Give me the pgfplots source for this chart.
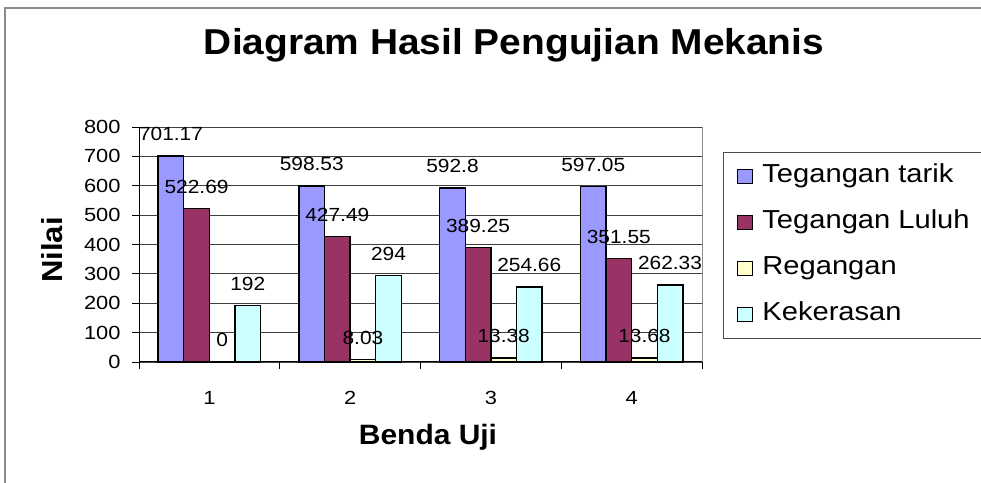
\documentclass[border=0pt]{standalone}
\usepackage{pgfplots}
\pgfplotsset{compat=1.18}
\usepackage{fontspec}
\setmainfont{Liberation Sans}
\newfontfamily\ftitle[FakeStretch=1.08]{Liberation Sans}
\newfontfamily\flab[FakeStretch=1.07]{Liberation Sans}
\newfontfamily\ftick[FakeStretch=1.15]{Liberation Sans}
\newfontfamily\fdata[FakeStretch=1.1]{Liberation Sans}
\newfontfamily\fleg[FakeStretch=1.12]{Liberation Sans}
\definecolor{ctarik}{HTML}{9999FF}
\definecolor{cluluh}{HTML}{993366}
\definecolor{cregang}{HTML}{FFFFCC}
\definecolor{ckeras}{HTML}{CCFFFF}
\pgfplotstableread{
x tarik luluh regang keras
1 701.17 522.69 0 192
2 598.53 427.49 8.03 294
3 592.8 389.25 13.38 254.66
4 597.05 351.55 13.68 262.33
}\datatab
\begin{document}
\begin{tikzpicture}[x=1bp,y=1bp]
\useasboundingbox (0,0) rectangle (981,483);
\draw[black!45, line width=1.6bp] (5,0) -- (5,475) -- (981,475);
\begin{axis}[
  at={(139bp,121bp)}, anchor=south west,
  scale only axis, width=563bp, height=235bp,
  xmin=0.5, xmax=4.5, ymin=0, ymax=800,
  axis x line*=bottom, axis y line*=left,
  axis line style={black, line width=1bp, -},
  ytick={0,100,...,800}, xtick={1,2,3,4},
  ymajorgrids, grid style={black!75, line width=0.8bp},
  tick align=outside,
  major tick length=7bp,
  major tick style={black, line width=0.9bp},
  major x tick style={draw=none},
  extra x ticks={0.5,1.5,2.5,3.5,4.5},
  extra x tick labels={},
  extra x tick style={major x tick style={draw=black, line width=0.9bp}, major tick length=7bp, grid=none},
  /pgf/number format/assume math mode=true,
  ticklabel style={font=\ftick\fontsize{19bp}{19bp}\selectfont},
  yticklabel style={xshift=-8bp},
  xticklabel style={yshift=-19bp},
  bar width=25.6bp,
  legend style={at={(axis description cs:1.0373,0.8936)}, anchor=north west,
    draw=black!70, line width=0.8bp, inner xsep=14bp, inner ysep=12.5bp,
    font=\fleg\fontsize{26bp}{26bp}\selectfont, row sep=23bp, column sep=9bp,
    nodes={inner sep=0pt, text height=18bp, text depth=5bp}},
  legend cell align=left,
  legend image code/.code={\draw[#1, line width=1bp] (0bp,-7bp) rectangle (15bp,7bp);},
  clip=false,
  every node near coord/.append style={font=\fdata\fontsize{19bp}{19bp}\selectfont, inner sep=0pt, anchor=south, yshift=15bp, text=black},
]
\addplot[ybar, bar shift=-38.4bp, fill=ctarik, draw=black, line width=1.4bp] table[x=x,y=tarik] {\datatab};
\addplot[ybar, bar shift=-12.8bp, fill=cluluh, draw=black, line width=1.4bp] table[x=x,y=luluh] {\datatab};
\addplot[ybar, bar shift=12.8bp, fill=cregang, draw=black, line width=1.4bp] table[x=x,y=regang] {\datatab};
\addplot[ybar, bar shift=38.4bp, fill=ckeras, draw=black, line width=1.4bp] table[x=x,y=keras] {\datatab};
\legend{Tegangan tarik, Tegangan Luluh\kern20bp, Regangan, Kekerasan}
\addplot[ybar, bar shift=-38.4bp, draw=none, fill=none, nodes near coords, forget plot,
  every node near coord/.append style={xshift=-38.4bp}] table[x=x,y=tarik] {\datatab};
\addplot[ybar, bar shift=-12.8bp, draw=none, fill=none, nodes near coords, forget plot,
  every node near coord/.append style={xshift=-12.8bp}] table[x=x,y=luluh] {\datatab};
\addplot[ybar, bar shift=12.8bp, draw=none, fill=none, nodes near coords, forget plot,
  every node near coord/.append style={xshift=12.8bp}] table[x=x,y=regang] {\datatab};
\addplot[ybar, bar shift=38.4bp, draw=none, fill=none, nodes near coords, forget plot,
  every node near coord/.append style={xshift=38.4bp}] table[x=x,y=keras] {\datatab};
\draw[black!45, line width=1bp] (rel axis cs:1,0) -- (rel axis cs:1,1);
\end{axis}
\node[font=\ftitle\fontsize{36bp}{36bp}\selectfont\bfseries] at (514,438) {Diagram Hasil Pengujian Mekanis};
\node[font=\flab\fontsize{28bp}{28bp}\selectfont\bfseries, anchor=base] at (428,38) {Benda Uji};
\node[font=\flab\fontsize{29bp}{29bp}\selectfont\bfseries, rotate=90] at (52,233) {Nilai};
\end{tikzpicture}
\end{document}
